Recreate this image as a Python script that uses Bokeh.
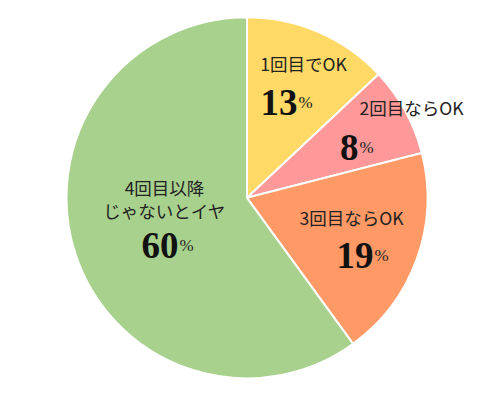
import numpy as np
from bokeh.plotting import figure
from bokeh.models import ColumnDataSource, Range1d
from bokeh.core.properties import value
from bokeh.embed import file_html
from bokeh.resources import INLINE

# ---- data ----
categories = ["1回目でOK", "2回目ならOK", "3回目ならOK", "4回目以降\nじゃないとイヤ"]
percents = [13, 8, 19, 60]
colors = ["#FFD966", "#FF9999", "#FF9966", "#A9D18E"]

# ---- layout (pixel coordinates inside figure) ----
W, H = 484, 384
cx, cy, R = 246.5, 186.7, 180.5
cat_x = [303, 411, 351, 164]
cat_y = [321, 277, 167, 197]
num_x = [297, 358, 373, 178]
num_y = [282, 237, 129, 139]

frac = np.array(percents) / sum(percents)
cum = np.concatenate([[0], np.cumsum(frac)])
start = np.pi / 2 - 2 * np.pi * cum[1:]
end = np.pi / 2 - 2 * np.pi * cum[:-1]

p = figure(width=W, height=H, output_backend="svg", toolbar_location=None,
           x_range=Range1d(0, W), y_range=Range1d(0, H), min_border=0)
p.axis.visible = False
p.grid.visible = False
p.outline_line_color = None
p.background_fill_color = "white"
p.border_fill_color = "white"

src = ColumnDataSource(dict(x=[cx] * 4, y=[cy] * 4, start=start, end=end, color=colors))
p.wedge(x="x", y="y", radius=R, start_angle="start", end_angle="end",
        fill_color="color", line_color="white", line_width=2, source=src)

jp = value("Noto Sans CJK JP")
for i in range(3):
    p.text(x=[cat_x[i]], y=[cat_y[i]], text=[categories[i]], text_font=jp,
           text_font_size="17.5px", text_color="#222222", text_align="center",
           text_baseline="middle")
lines = categories[3].split("\n")
p.text(x=[cat_x[3], cat_x[3]], y=[cat_y[3], cat_y[3] - 23], text=lines, text_font=jp,
       text_font_size="17.5px", text_color="#222222", text_align="center",
       text_baseline="middle")

for i in range(4):
    p.text(x=[num_x[i]], y=[num_y[i]], text=[str(percents[i])],
           text_font=value("Liberation Serif"), text_font_style="bold",
           text_font_size="37px", text_color="#111111", text_align="right",
           text_baseline="alphabetic")
    p.text(x=[num_x[i] + 1], y=[num_y[i]], text=["%"],
           text_font=value("Liberation Serif"), text_font_size="17px",
           text_color="#222222", text_align="left", text_baseline="alphabetic")

open("out.html", "w").write(file_html(p, INLINE))
